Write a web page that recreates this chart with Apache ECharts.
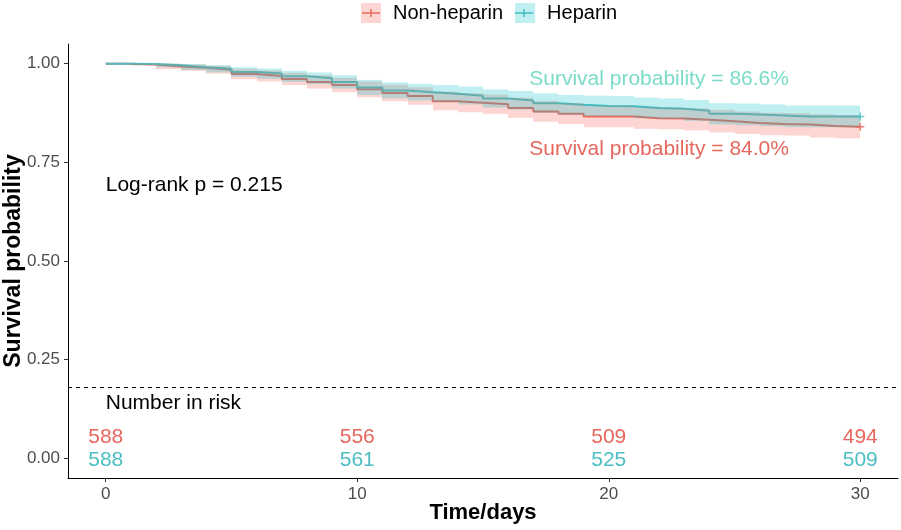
<!DOCTYPE html>
<html><head><meta charset="utf-8">
<script src="https://cdn.jsdelivr.net/npm/echarts@6/dist/echarts.min.js"></script>
<style>html,body{margin:0;padding:0;background:#fff}#c{width:901px;height:530px}</style>
</head><body><div id="c"></div>
<script>
// ---- data ----
const days = [0,1,2,3,4,5,6,7,8,9,10,11,12,13,14,15,16,17,18,19,20,21,22,23,24,25,26,27,28,29,30];
const nonHeparin      = [1.000,0.998,0.993,0.990,0.985,0.974,0.969,0.961,0.954,0.946,0.935,0.926,0.918,0.905,0.901,0.897,0.888,0.879,0.873,0.866,0.866,0.862,0.861,0.858,0.854,0.850,0.847,0.846,0.842,0.840,0.840];
const nonHeparinLower = [1.000,0.995,0.986,0.982,0.975,0.961,0.955,0.946,0.937,0.928,0.915,0.905,0.896,0.882,0.877,0.873,0.863,0.853,0.847,0.839,0.839,0.835,0.834,0.831,0.826,0.822,0.819,0.818,0.813,0.811,0.811];
const nonHeparinUpper = [1.000,1.000,1.000,0.998,0.995,0.987,0.983,0.977,0.971,0.964,0.955,0.947,0.940,0.929,0.925,0.922,0.914,0.906,0.900,0.894,0.894,0.890,0.889,0.887,0.883,0.879,0.876,0.875,0.872,0.870,0.870];
const heparin         = [1.000,0.999,0.996,0.991,0.987,0.979,0.975,0.968,0.963,0.954,0.940,0.932,0.928,0.924,0.919,0.912,0.907,0.900,0.896,0.893,0.892,0.888,0.886,0.881,0.873,0.871,0.869,0.866,0.866,0.866,0.866];
const heparinLower    = [1.000,0.997,0.991,0.984,0.978,0.967,0.962,0.954,0.948,0.937,0.921,0.912,0.907,0.903,0.897,0.889,0.884,0.876,0.871,0.868,0.867,0.862,0.860,0.855,0.846,0.844,0.842,0.839,0.839,0.839,0.839];
const heparinUpper    = [1.000,1.000,1.000,0.999,0.996,0.991,0.988,0.982,0.978,0.971,0.959,0.953,0.949,0.946,0.942,0.935,0.931,0.925,0.921,0.919,0.918,0.914,0.912,0.908,0.900,0.899,0.897,0.894,0.894,0.894,0.894];
const riskTimes = [0,10,20,30];
const riskNonHeparin = [588,556,509,494];
const riskHeparin = [588,561,525,509];
const xTicks = [0,10,20,30];
const yTicks = [0,0.25,0.5,0.75,1.0];
const seriesNames = ['Non-heparin','Heparin'];
const finalSurvival = ['86.6%','84.0%'];
const logRankText = 'Log-rank p = 0.215';
const riskTitle = 'Number in risk';

// ---- styles ----
const FONT = '"Liberation Sans", Arial, sans-serif';
const RED = '#E8645A', TEAL = '#4FBDC2';
const RED_BAND = 'rgba(248,118,109,0.30)', TEAL_BAND = 'rgba(0,191,196,0.25)';

function steps(x, y){ return x.map((v,i)=>[v, y[i]]); }
function bandData(lo, hi){
  const out = [];
  for (let i = 0; i < days.length - 1; i++) out.push([days[i], days[i+1], lo[i], hi[i]]);
  return out;
}
function bandRender(color){
  return function(params, api){
    const a = api.coord([api.value(0), api.value(3)]);
    const b = api.coord([api.value(1), api.value(2)]);
    const x0 = Math.round(a[0]), x1 = Math.round(b[0]);
    return {type:'rect', shape:{x:x0, y:a[1], width:x1-x0, height:b[1]-a[1]}, style:{fill:color}};
  };
}
function textRender(labels, color, align, size, weight){
  return function(params, api){
    const p = api.coord([api.value(0), api.value(1)]);
    return {type:'text', x:p[0], y:p[1], style:{text:String(labels[params.dataIndex]), fill:color,
      fontSize:size, fontFamily:FONT, fontWeight:weight||'normal', align:align, verticalAlign:'middle'}};
  };
}
const n = days.length - 1;
const chart = echarts.init(document.getElementById('c'), null, {renderer:'canvas'});
chart.setOption({
  backgroundColor:'#fff',
  animation:false,
  grid:{left:68, right:3, top:44, bottom:52, containLabel:false, outerBoundsMode:'none'},
  legend:{
    left:361, top:3, padding:0, itemWidth:20, itemHeight:20, itemGap:12, icon:'rect',
    textStyle:{fontSize:20, fontFamily:FONT, color:'#000', padding:[0,0,0,7]},
    data:[{name:seriesNames[0], itemStyle:{color:RED_BAND}}, {name:seriesNames[1], itemStyle:{color:TEAL_BAND}}]
  },
  graphic:[
    {type:'line', shape:{x1:362,y1:13,x2:380,y2:13}, style:{stroke:RED, lineWidth:1.5}},
    {type:'line', shape:{x1:371,y1:9,x2:371,y2:17}, style:{stroke:RED, lineWidth:1.5}},
    {type:'line', shape:{x1:515,y1:13,x2:533,y2:13}, style:{stroke:TEAL, lineWidth:1.5}},
    {type:'line', shape:{x1:524,y1:9,x2:524,y2:17}, style:{stroke:TEAL, lineWidth:1.5}}
  ],
  xAxis:{
    type:'value', min:-1.5, max:31.5,
    name:'Time/days', nameLocation:'middle', nameGap:24, nameMoveOverlap:false,
    nameTextStyle:{fontSize:22, fontWeight:'bold', fontFamily:FONT, color:'#000'},
    axisLine:{onZero:false, lineStyle:{color:'#000', width:1}},
    axisTick:{show:true, length:4, customValues:xTicks, lineStyle:{color:'#333'}},
    axisLabel:{customValues:xTicks, fontSize:17, color:'#4D4D4D', fontFamily:FONT, margin:8},
    splitLine:{show:false}
  },
  yAxis:{
    type:'value', min:-0.05, max:1.05,
    name:'Survival probability', nameLocation:'middle', nameGap:43, nameRotate:90, nameMoveOverlap:false,
    nameTextStyle:{fontSize:23, fontWeight:'bold', fontFamily:FONT, color:'#000'},
    axisLine:{show:true, onZero:false, lineStyle:{color:'#000', width:1}},
    axisTick:{show:true, length:4, customValues:yTicks, lineStyle:{color:'#333'}},
    axisLabel:{customValues:yTicks, fontSize:17, color:'#4D4D4D', fontFamily:FONT, margin:8,
      formatter:v=>v.toFixed(2)},
    splitLine:{show:false}
  },
  series:[
    {name:seriesNames[0], type:'line', step:'end', symbol:'none', z:2,
     lineStyle:{color:RED, width:2}, itemStyle:{color:RED_BAND}, data:steps(days, nonHeparin),
     markLine:{silent:true, symbol:'none', label:{show:false},
       lineStyle:{color:'#000', type:[4,4], width:1}, data:[{yAxis:0.182}]}},
    {name:seriesNames[1], type:'line', step:'end', symbol:'none', z:2,
     lineStyle:{color:TEAL, width:2}, itemStyle:{color:TEAL_BAND}, data:steps(days, heparin)},
    {type:'custom', z:3, renderItem:bandRender(RED_BAND), encode:{x:[0,1], y:[2,3]}, data:bandData(nonHeparinLower, nonHeparinUpper)},
    {type:'custom', z:3, renderItem:bandRender(TEAL_BAND), encode:{x:[0,1], y:[2,3]}, data:bandData(heparinLower, heparinUpper)},
    {type:'scatter', z:4, symbol:'path://M5,0L5,10M0,5L10,5', symbolSize:8,
     itemStyle:{color:'none', borderColor:RED, borderWidth:1.5}, data:[[days[n], nonHeparin[n]]]},
    {type:'scatter', z:4, symbol:'path://M5,0L5,10M0,5L10,5', symbolSize:8,
     itemStyle:{color:'none', borderColor:TEAL, borderWidth:1.5}, data:[[days[n], heparin[n]]]},
    // annotations
    {type:'custom', z:5, renderItem:textRender(['Survival probability = ' + finalSurvival[0]], '#7ADCC8', 'center', 21),
     encode:{x:0,y:1}, data:[[22, 0.962]]},
    {type:'custom', z:5, renderItem:textRender(['Survival probability = ' + finalSurvival[1]], '#E5675D', 'center', 21),
     encode:{x:0,y:1}, data:[[22, 0.784]]},
    {type:'custom', z:5, renderItem:textRender([logRankText], '#000', 'left', 21),
     encode:{x:0,y:1}, data:[[0, 0.692]]},
    {type:'custom', z:5, renderItem:textRender([riskTitle], '#000', 'left', 21),
     encode:{x:0,y:1}, data:[[0, 0.139]]},
    {type:'custom', z:5, renderItem:textRender(riskNonHeparin, '#E5675D', 'center', 21),
     encode:{x:0,y:1}, data:riskTimes.map(t=>[t, 0.053])},
    {type:'custom', z:5, renderItem:textRender(riskHeparin, '#4DBEC2', 'center', 21),
     encode:{x:0,y:1}, data:riskTimes.map(t=>[t, -0.004])}
  ]
});
</script></body></html>
